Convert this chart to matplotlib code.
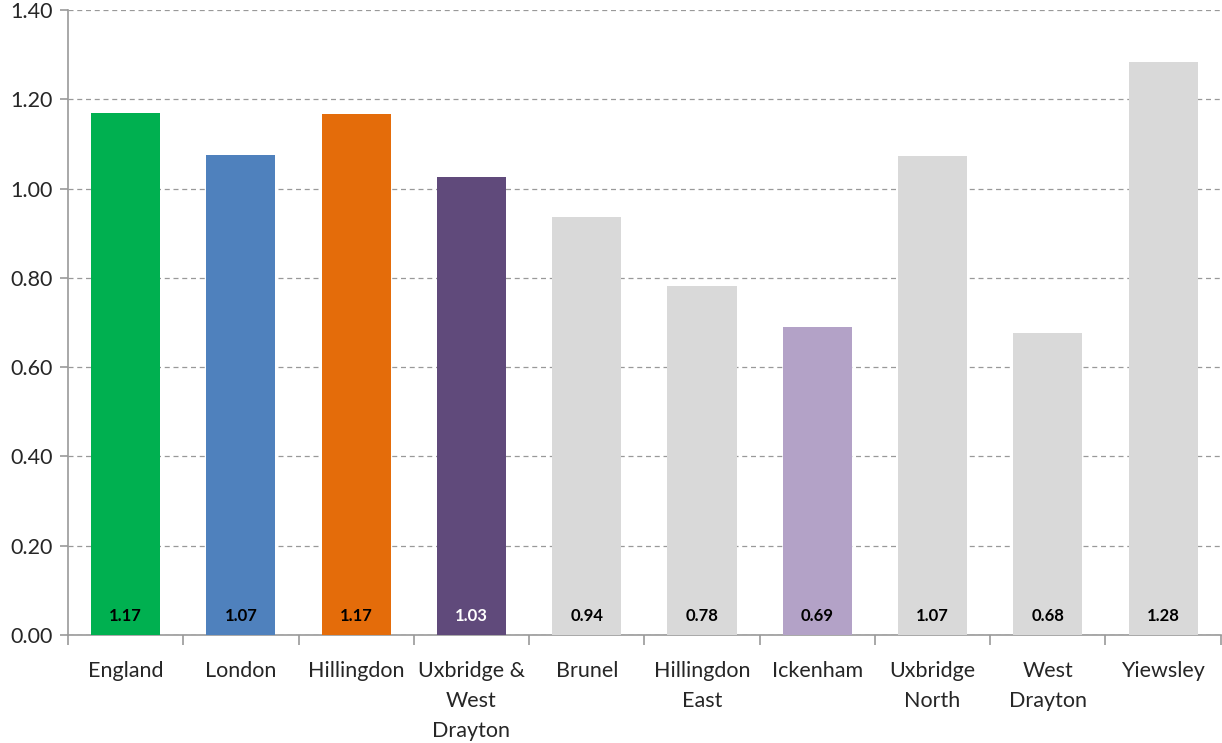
import matplotlib.pyplot as plt
import numpy as np

categories = ['England', 'London', 'Hillingdon', 'Uxbridge &\nWest\nDrayton', 'Brunel',
              'Hillingdon\nEast', 'Ickenham', 'Uxbridge\nNorth', 'West\nDrayton', 'Yiewsley']
values = [1.17, 1.075, 1.167, 1.027, 0.936, 0.781, 0.69, 1.073, 0.676, 1.284]
labels = ['1.17', '1.07', '1.17', '1.03', '0.94', '0.78', '0.69', '1.07', '0.68', '1.28']
colors = ['#00B050', '#4F81BD', '#E46C0A', '#604A7B', '#D9D9D9',
          '#D9D9D9', '#B3A2C7', '#D9D9D9', '#D9D9D9', '#D9D9D9']
label_colors = ['black', 'black', 'black', 'white', 'black',
                'black', 'black', 'black', 'black', 'black']

plt.rcParams['font.family'] = ['Lato', 'DejaVu Sans']

fig = plt.figure(figsize=(12.22, 7.43), dpi=100)
ax = fig.add_axes([0.0556, 0.1454, 0.9434, 0.8411])

x = np.arange(len(categories))
ax.bar(x, values, width=0.6, color=colors, zorder=3)
for xi, lab, c in zip(x, labels, label_colors):
    ax.text(xi, 0.043, lab, ha='center', va='center', fontsize=12,
            fontweight='bold', color=c, zorder=4)

ax.set_xlim(-0.5, len(categories) - 0.5)
ax.set_ylim(0, 1.4)
ax.set_yticks(np.arange(0, 1.41, 0.2))
ax.set_yticklabels([f'{v:.2f}' for v in np.arange(0, 1.41, 0.2)], fontsize=15.5, color='#262626')
ax.yaxis.grid(True, linestyle=(0, (4, 3)), color='#999999', linewidth=0.9, zorder=0)
ax.tick_params(axis='y', length=6, color='#999999', width=1.2, pad=5)

ax.set_xticks(x)
ax.set_xticklabels(categories, fontsize=15.5, color='#262626', linespacing=1.6)
ax.tick_params(axis='x', length=0, pad=19)
ax.set_xticks(np.arange(-0.5, len(categories), 1), minor=True)
ax.tick_params(axis='x', which='minor', length=7, color='#999999', width=1.2)

for s in ['top', 'right']:
    ax.spines[s].set_visible(False)
for s in ['left', 'bottom']:
    ax.spines[s].set_color('#999999')
    ax.spines[s].set_linewidth(1.2)

fig.savefig('out.png', dpi=100)
